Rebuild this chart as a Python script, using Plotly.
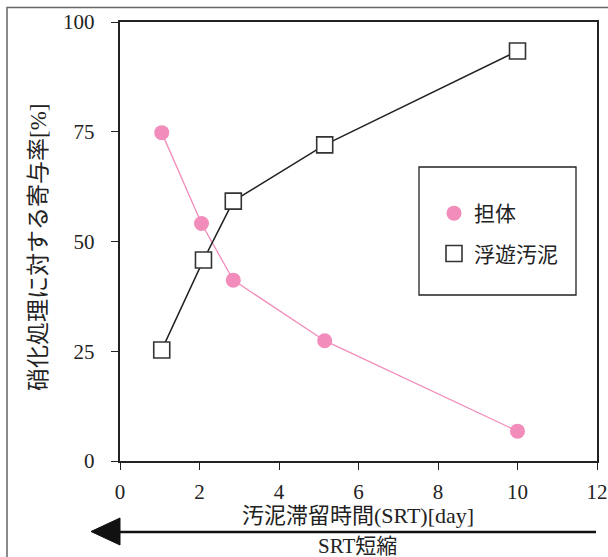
import plotly.graph_objects as go

# data
srt_carrier = [1.05, 2.05, 2.85, 5.15, 10.0]
carrier = [74.8, 54.1, 41.2, 27.4, 6.8]
srt_float = [1.05, 2.1, 2.85, 5.15, 10.0]
floating = [25.3, 45.8, 59.2, 72.0, 93.4]
xticks = [0, 2, 4, 6, 8, 10, 12]
yticks = [0, 25, 50, 75, 100]

W, H = 608, 557
L, R, T, B = 120, 597, 22, 461

def px(x):
    return (x - L) / (R - L)

def py(y):
    return (B - y) / (B - T)

FONT = "'Liberation Serif', 'DejaVu Serif', 'Noto Sans CJK JP', serif"
PINK = "#f28cbb"
INK = "#222222"

fig = go.Figure()
# connecting lines
fig.add_trace(go.Scatter(
    x=srt_carrier, y=carrier, mode="lines", showlegend=False, hoverinfo="skip",
    line=dict(color=PINK, width=1.3),
))
fig.add_trace(go.Scatter(
    x=srt_float, y=floating, mode="lines", showlegend=False, hoverinfo="skip",
    line=dict(color=INK, width=1.5),
))
# markers
fig.add_trace(go.Scatter(
    x=srt_carrier, y=carrier, mode="markers", name="担体",
    legendgroup="a",
    marker=dict(symbol="circle", size=15, color=PINK),
))
fig.add_trace(go.Scatter(
    x=srt_float, y=floating, mode="markers", name="浮遊汚泥",
    legendgroup="b",
    marker=dict(symbol="square", size=16, color="white",
                line=dict(color="#333333", width=1.6)),
))

axis_common = dict(
    showline=True, linecolor=INK, linewidth=2.4, mirror=True,
    ticks="outside", ticklen=7, tickwidth=1.4, tickcolor=INK,
    showgrid=False, zeroline=False, automargin=False,
    tickfont=dict(family=FONT, size=21, color=INK),
)

fig.update_layout(
    width=W, height=H, autosize=False,
    margin=dict(l=L, r=W - R, t=T, b=H - B),
    paper_bgcolor="white", plot_bgcolor="white",
    font=dict(family=FONT, color=INK),
    xaxis=dict(range=[0, 12], tickvals=xticks, ticklabelstandoff=4, **axis_common),
    yaxis=dict(range=[0, 100], tickvals=yticks, ticklabelstandoff=12, **axis_common),
    showlegend=True,
    legend=dict(
        x=px(434), y=py(193), xanchor="left", yanchor="top",
        bgcolor="rgba(0,0,0,0)", borderwidth=0,
        font=dict(family=FONT, size=21, color=INK),
        traceorder="grouped", tracegroupgap=10,
    ),
)

shapes = []
# legend box
shapes.append(dict(type="rect", xref="paper", yref="paper",
                   x0=px(419), x1=px(576), y0=py(295), y1=py(167),
                   line=dict(color=INK, width=1.3), fillcolor="rgba(0,0,0,0)"))
# outer border (left, top)
shapes.append(dict(type="path", xref="paper", yref="paper",
                   path=f"M {px(7)} {py(560)} L {px(7)} {py(7.5)} L {px(610)} {py(7.5)}",
                   line=dict(color="#666666", width=1.5)))
# arrow line
shapes.append(dict(type="line", xref="paper", yref="paper",
                   x0=px(118), x1=px(596), y0=py(532), y1=py(532),
                   line=dict(color="#111111", width=2.5)))
# arrow head
shapes.append(dict(type="path", xref="paper", yref="paper",
                   path=f"M {px(91)} {py(531.5)} L {px(120)} {py(518)} L {px(120)} {py(545)} Z",
                   fillcolor="#111111", line=dict(color="#111111", width=1)))
fig.update_layout(shapes=shapes)

ann = []
ann.append(dict(text="汚泥滞留時間(SRT)[day]", xref="paper", yref="paper",
                x=px(358), y=py(515), xanchor="center", yanchor="middle",
                showarrow=False, font=dict(family=FONT, size=22, color=INK)))
ann.append(dict(text="SRT短縮", xref="paper", yref="paper",
                x=px(357), y=py(546), xanchor="center", yanchor="middle",
                showarrow=False, font=dict(family=FONT, size=21, color=INK)))
ann.append(dict(text="硝化処理に対する寄与率[%]", xref="paper", yref="paper",
                x=px(39), y=py(248), xanchor="center", yanchor="middle", textangle=-90,
                showarrow=False, font=dict(family=FONT, size=23, color=INK)))
fig.update_layout(annotations=ann)

fig.write_html("out.html",
               config={"responsive": False, "displayModeBar": False},
               post_script="document.body.style.margin='0';document.body.style.overflow='hidden';")
